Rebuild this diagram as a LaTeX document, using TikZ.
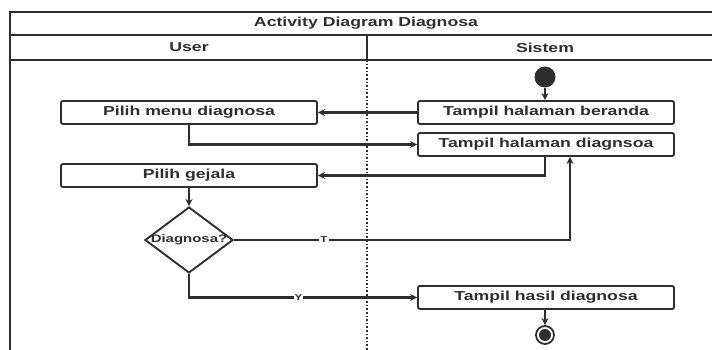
\documentclass[tikz,border=0pt]{standalone}
\usepackage{fontspec}
\setmainfont[FakeStretch=1.36]{Liberation Sans}
\usetikzlibrary{shapes.geometric,arrows.meta}
\definecolor{ln}{HTML}{2E2E2E}
\begin{document}
\begin{tikzpicture}[x=1pt,y=-1pt,
  act/.style={draw=ln, line width=1.9pt, rounded corners=2pt, minimum width=256pt,
    minimum height=23pt, inner sep=0pt, fill=white, text=ln,
    font=\bfseries\fontsize{13}{15}\selectfont},
  conn/.style={draw=ln, line width=2.2pt, -{Stealth[length=7pt,width=7pt]}},
  hdr/.style={text=ln, font=\bfseries\fontsize{13}{15}\selectfont},
  glabel/.style={fill=white, inner sep=1pt, text=ln, font=\bfseries\fontsize{8.5}{9}\selectfont}]
\useasboundingbox (0,0) rectangle (712,350);
% frame and lanes
\draw[ln, line width=1.9pt] (10,350) -- (10,12) -- (712,12);
\draw[ln, line width=1.9pt] (10,35) -- (712,35);
\draw[ln, line width=1.9pt] (10,60) -- (712,60);
\draw[ln, line width=1.4pt] (367,35) -- (367,60);
\draw[ln, line width=1.6pt, dotted] (367,60) -- (367,350);
\node[hdr] (title) at (366,23.5) {Activity Diagram Diagnosa};
\node[hdr] (user) at (189,47.5) {User};
\node[hdr] (sistem) at (545,47.5) {Sistem};
% nodes
\node[circle, fill=ln, minimum size=21pt, inner sep=0pt] (start) at (545,77) {};
\node[act] (menu) at (189,112.5) {Pilih menu diagnosa};
\node[act] (beranda) at (546,112.5) {Tampil halaman beranda};
\node[act] (diag) at (546,144.5) {Tampil halaman diagnsoa};
\node[act] (gejala) at (189,175.5) {Pilih gejala};
\node[diamond, draw=ln, line width=1.9pt, fill=white, minimum width=88pt, minimum height=66pt, inner sep=0pt] (dec) at (189,240) {};
\node[text=ln, font=\bfseries\fontsize{11}{13}\selectfont] (dectext) at (dec) {Diagnosa?};
\node[act] (hasil) at (546,297.5) {Tampil hasil diagnosa};
\node[circle, draw=ln, line width=1.8pt, minimum size=18pt, inner sep=0pt] (end) at (545,335) {};
\node[circle, fill=ln, minimum size=12pt, inner sep=0pt] (endin) at (end) {};
% connectors
\draw[conn] (start) -- (start |- beranda.north);
\draw[conn] (beranda) -- (menu);
\draw[conn] (menu.south) |- (diag.west);
\draw[conn] ([xshift=-1pt]diag.south) |- (gejala.east);
\draw[conn] (gejala) -- (dec);
\draw[conn] (dec.east) -| node[glabel, pos=0.134] (tlab) {T} ([xshift=24pt]diag.south);
\draw[conn] (dec.south) |- node[glabel, pos=0.74] (ylab) {Y} (hasil.west);
\draw[conn] (hasil.south -| end) -- (end);
\end{tikzpicture}
\end{document}
